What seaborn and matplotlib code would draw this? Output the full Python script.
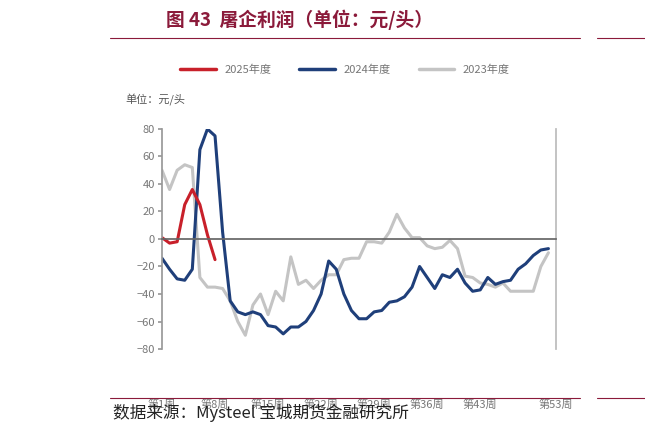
import numpy as np
import pandas as pd
import seaborn as sns
import matplotlib.pyplot as plt
from matplotlib.lines import Line2D

sns.set_theme(style="white")
plt.rcParams['font.family'] = ['Noto Sans CJK SC', 'DejaVu Sans']

y2025 = [1, -3, -2, 25, 36, 25, 3, -15]
y2024 = [-14, -22, -29, -30, -22, 65, 80, 75, 5, -45, -53, -55, -53, -55, -63, -64, -69, -64, -64, -60,
         -52, -40, -16, -22, -40, -52, -58, -58, -53, -52, -46, -45, -42, -35, -20, -28, -36, -26, -28, -22,
         -32, -38, -37, -28, -33, -31, -30, -22, -18, -12, -8, -7]
y2023 = [50, 36, 50, 54, 52, -28, -35, -35, -36, -45, -60, -70, -48, -40, -55, -38, -45, -13, -33, -30,
         -36, -30, -26, -26, -15, -14, -14, -2, -2, -3, 5, 18, 8, 1, 1, -5, -7, -6, -1, -7,
         -27, -28, -32, -33, -35, -32, -38, -38, -38, -38, -20, -10]
tick_weeks = [1, 8, 15, 22, 29, 36, 43, 50, 53]
tick_labels = ['第1周', '第8周', '第15周', '第22周', '第29周', '第36周', '第43周', '', '第53周']
yticks = list(range(-80, 81, 20))

rows = []
for name, vals in [('2023年度', y2023), ('2024年度', y2024), ('2025年度', y2025)]:
    for i, v in enumerate(vals):
        rows.append({'week': i + 1, 'value': v, 'year': name})
df = pd.DataFrame(rows)
palette = {'2025年度': '#C8202A', '2024年度': '#1F3F7A', '2023年度': '#C4C4C4'}

fig = plt.figure(figsize=(6.45, 4.33), dpi=100)
ax = fig.add_axes([162/645, 1-349/433, (556-162)/645, (349-129)/433])
sns.lineplot(data=df, x='week', y='value', hue='year', palette=palette, linewidth=2.2,
             ax=ax, legend=False, hue_order=['2023年度', '2024年度', '2025年度'])
ax.set_xlim(1, 53)
ax.set_ylim(-80, 80)
ax.set_yticks(yticks)
ax.set_xticks(tick_weeks)
ax.set_xticklabels(tick_labels)
ax.set_xlabel('')
ax.set_ylabel('')
ax.spines['top'].set_visible(False)
ax.spines['bottom'].set_position(('data', 0))
ax.spines['bottom'].set_color('#666666')
ax.spines['left'].set_color('#999999')
ax.spines['right'].set_color('#BBBBBB')
ax.tick_params(axis='x', direction='out', length=3, color='#666666', pad=112, labelsize=8, labelcolor='#777777')
ax.tick_params(axis='y', direction='out', length=3, left=True, color='#999999', labelsize=8, labelcolor='#777777', pad=2)

fig.text(300/645, 1-20/433, '图 43  屠企利润（单位：元/头）', ha='center', va='center',
         fontsize=13.5, color='#8B1A3A', fontweight='bold')
fig.add_artist(Line2D([110/645, 580/645], [1-38/433]*2, color='#8B1A3A', lw=0.8))
fig.add_artist(Line2D([597/645, 1], [1-38/433]*2, color='#8B1A3A', lw=0.8))
fig.add_artist(Line2D([110/645, 580/645], [1-398/433]*2, color='#8B1A3A', lw=0.8))
fig.add_artist(Line2D([597/645, 1], [1-398/433]*2, color='#8B1A3A', lw=0.8))

handles = [Line2D([], [], color=palette[k], lw=2.5) for k in ['2025年度', '2024年度', '2023年度']]
fig.legend(handles, ['2025年度', '2024年度', '2023年度'], loc='center', bbox_to_anchor=(345/645, 1-70/433),
           ncol=3, frameon=False, fontsize=8, handlelength=3.2, columnspacing=2.5, labelcolor='#777777')
fig.text(125/645, 1-100/433, '单位：元/头', fontsize=8, color='#555555', va='center')
fig.text(113/645, 1-413/433, '数据来源：Mysteel 宝城期货金融研究所', fontsize=12, color='#222222', va='center')
fig.savefig('out.png', dpi=100)
